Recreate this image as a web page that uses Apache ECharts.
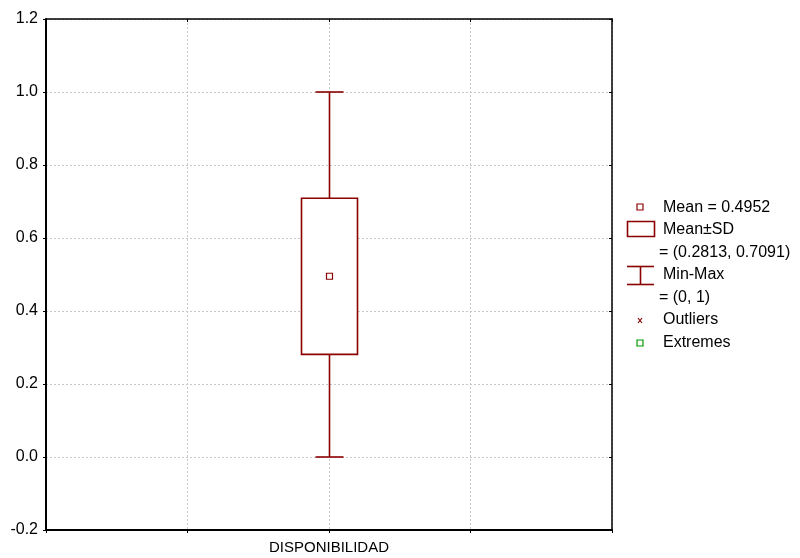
<!DOCTYPE html>
<html>
<head>
<meta charset="utf-8">
<script src="https://cdn.jsdelivr.net/npm/echarts@6/dist/echarts.min.js"></script>
<style>html,body{margin:0;padding:0;background:#fff}#c{width:800px;height:558px}</style>
</head>
<body>
<div id="c"></div>
<script>
var categories = ['DISPONIBILIDAD'];
var minValues = [0];
var sdLow = [0.2813];
var means = [0.4952];
var sdHigh = [0.7091];
var maxValues = [1];
var yTicks = [-0.2, 0.0, 0.2, 0.4, 0.6, 0.8, 1.0, 1.2];
var categoryPos = [2];

var RED = '#8b0000';
var FONT = 'Liberation Sans, Arial, sans-serif';
var FS = 16;

var seriesData = categories.map(function (c, i) {
  return [categoryPos[i], minValues[i], sdLow[i], means[i], sdHigh[i], maxValues[i]];
});

function renderBox(params, api) {
  var x = api.value(0);
  var pMin = api.coord([x, api.value(1)]);
  var pLo = api.coord([x, api.value(2)]);
  var pMean = api.coord([x, api.value(3)]);
  var pHi = api.coord([x, api.value(4)]);
  var pMax = api.coord([x, api.value(5)]);
  var cx = Math.round(pMean[0]) + 0.5;
  var bw = 28, cw = 14;
  var st = { stroke: RED, lineWidth: 1.6, fill: null };
  return {
    type: 'group',
    children: [
      { type: 'line', shape: { x1: cx, y1: pMax[1], x2: cx, y2: pHi[1] }, style: st },
      { type: 'line', shape: { x1: cx - cw, y1: pMax[1], x2: cx + cw, y2: pMax[1] }, style: st },
      { type: 'line', shape: { x1: cx, y1: pLo[1], x2: cx, y2: pMin[1] }, style: st },
      { type: 'line', shape: { x1: cx - cw, y1: pMin[1], x2: cx + cw, y2: pMin[1] }, style: st },
      { type: 'rect', shape: { x: cx - bw, y: pHi[1], width: bw * 2, height: pLo[1] - pHi[1] }, style: { stroke: RED, lineWidth: 1.6, fill: '#fff' } },
      { type: 'rect', shape: { x: cx - 3, y: pMean[1] - 3, width: 6, height: 6 }, style: { stroke: RED, lineWidth: 1.2, fill: '#fff' } }
    ]
  };
}

function txt(x, y, t) {
  return { type: 'text', x: x, y: y, style: { text: t, fill: '#000', font: FS + 'px ' + FONT, textVerticalAlign: 'middle' } };
}

var gridSplit = { show: true, lineStyle: { color: '#c8c8c8', type: [2, 2], width: 1 } };

var chart = echarts.init(document.getElementById('c'), null, { renderer: 'canvas' });
chart.setOption({
  animation: false,
  backgroundColor: '#fff',
  grid: { left: 46, right: 188, top: 19, bottom: 28, show: false },
  xAxis: [{
    type: 'value', min: 0, max: 4, interval: 1, position: 'bottom',
    axisLine: { show: true, onZero: false, lineStyle: { color: '#000', width: 2 } },
    axisTick: { show: true, length: 3, inside: false, lineStyle: { color: '#000' } },
    splitLine: gridSplit,
    axisLabel: {
      color: '#000', fontFamily: FONT, fontSize: 15, margin: 10,
      formatter: function (v) { var i = categoryPos.indexOf(v); return i >= 0 ? categories[i] : ''; }
    }
  }, {
    type: 'value', min: 0, max: 4, interval: 1, position: 'top',
    axisLine: { show: true, onZero: false, lineStyle: { color: '#000', width: 1.5 } },
    axisTick: { show: true, length: 3, inside: true, lineStyle: { color: '#000' } },
    splitLine: { show: false }, axisLabel: { show: false }
  }],
  yAxis: [{
    type: 'value', min: -0.2, max: 1.2, interval: 0.2, position: 'left',
    axisLine: { show: true, onZero: false, lineStyle: { color: '#000', width: 2 } },
    axisTick: { show: true, length: 3, lineStyle: { color: '#000' } },
    splitLine: gridSplit,
    axisLabel: {
      color: '#000', fontFamily: FONT, fontSize: FS, margin: 8,
      formatter: function (v) { return v.toFixed(1); }
    }
  }, {
    type: 'value', min: -0.2, max: 1.2, interval: 0.2, position: 'right',
    axisLine: { show: true, onZero: false, lineStyle: { color: '#000', width: 1.5 } },
    axisTick: { show: true, length: 3, inside: true, lineStyle: { color: '#000' } },
    splitLine: { show: false }, axisLabel: { show: false }
  }],
  series: [{
    type: 'custom',
    renderItem: renderBox,
    xAxisIndex: 0, yAxisIndex: 0,
    encode: { x: 0, y: [1, 2, 3, 4, 5] },
    data: seriesData,
    z: 10
  }],
  graphic: [
    { type: 'rect', shape: { x: 637, y: 204, width: 6, height: 6 }, style: { stroke: RED, lineWidth: 1.2, fill: '#fff' } },
    txt(663, 208, 'Mean = ' + means[0].toFixed(4)),
    { type: 'rect', shape: { x: 627.5, y: 221.5, width: 27, height: 15 }, style: { stroke: RED, lineWidth: 1.6, fill: '#fff' } },
    txt(663, 230, 'Mean\u00B1SD'),
    txt(659, 253, '= (' + sdLow[0] + ', ' + sdHigh[0] + ')'),
    { type: 'line', shape: { x1: 627, y1: 266.5, x2: 654, y2: 266.5 }, style: { stroke: RED, lineWidth: 1.6 } },
    { type: 'line', shape: { x1: 627, y1: 284.5, x2: 654, y2: 284.5 }, style: { stroke: RED, lineWidth: 1.6 } },
    { type: 'line', shape: { x1: 640.5, y1: 266, x2: 640.5, y2: 285 }, style: { stroke: RED, lineWidth: 1.6 } },
    txt(663, 275, 'Min-Max'),
    txt(659, 298, '= (' + minValues[0] + ', ' + maxValues[0] + ')'),
    { type: 'line', shape: { x1: 638, y1: 318, x2: 642, y2: 323 }, style: { stroke: RED, lineWidth: 1.2 } },
    { type: 'line', shape: { x1: 642, y1: 318, x2: 638, y2: 323 }, style: { stroke: RED, lineWidth: 1.2 } },
    txt(663, 320, 'Outliers'),
    { type: 'rect', shape: { x: 637, y: 340, width: 6, height: 6 }, style: { stroke: '#009900', lineWidth: 1.2, fill: '#fff' } },
    txt(663, 343, 'Extremes')
  ]
});
</script>
</body>
</html>
